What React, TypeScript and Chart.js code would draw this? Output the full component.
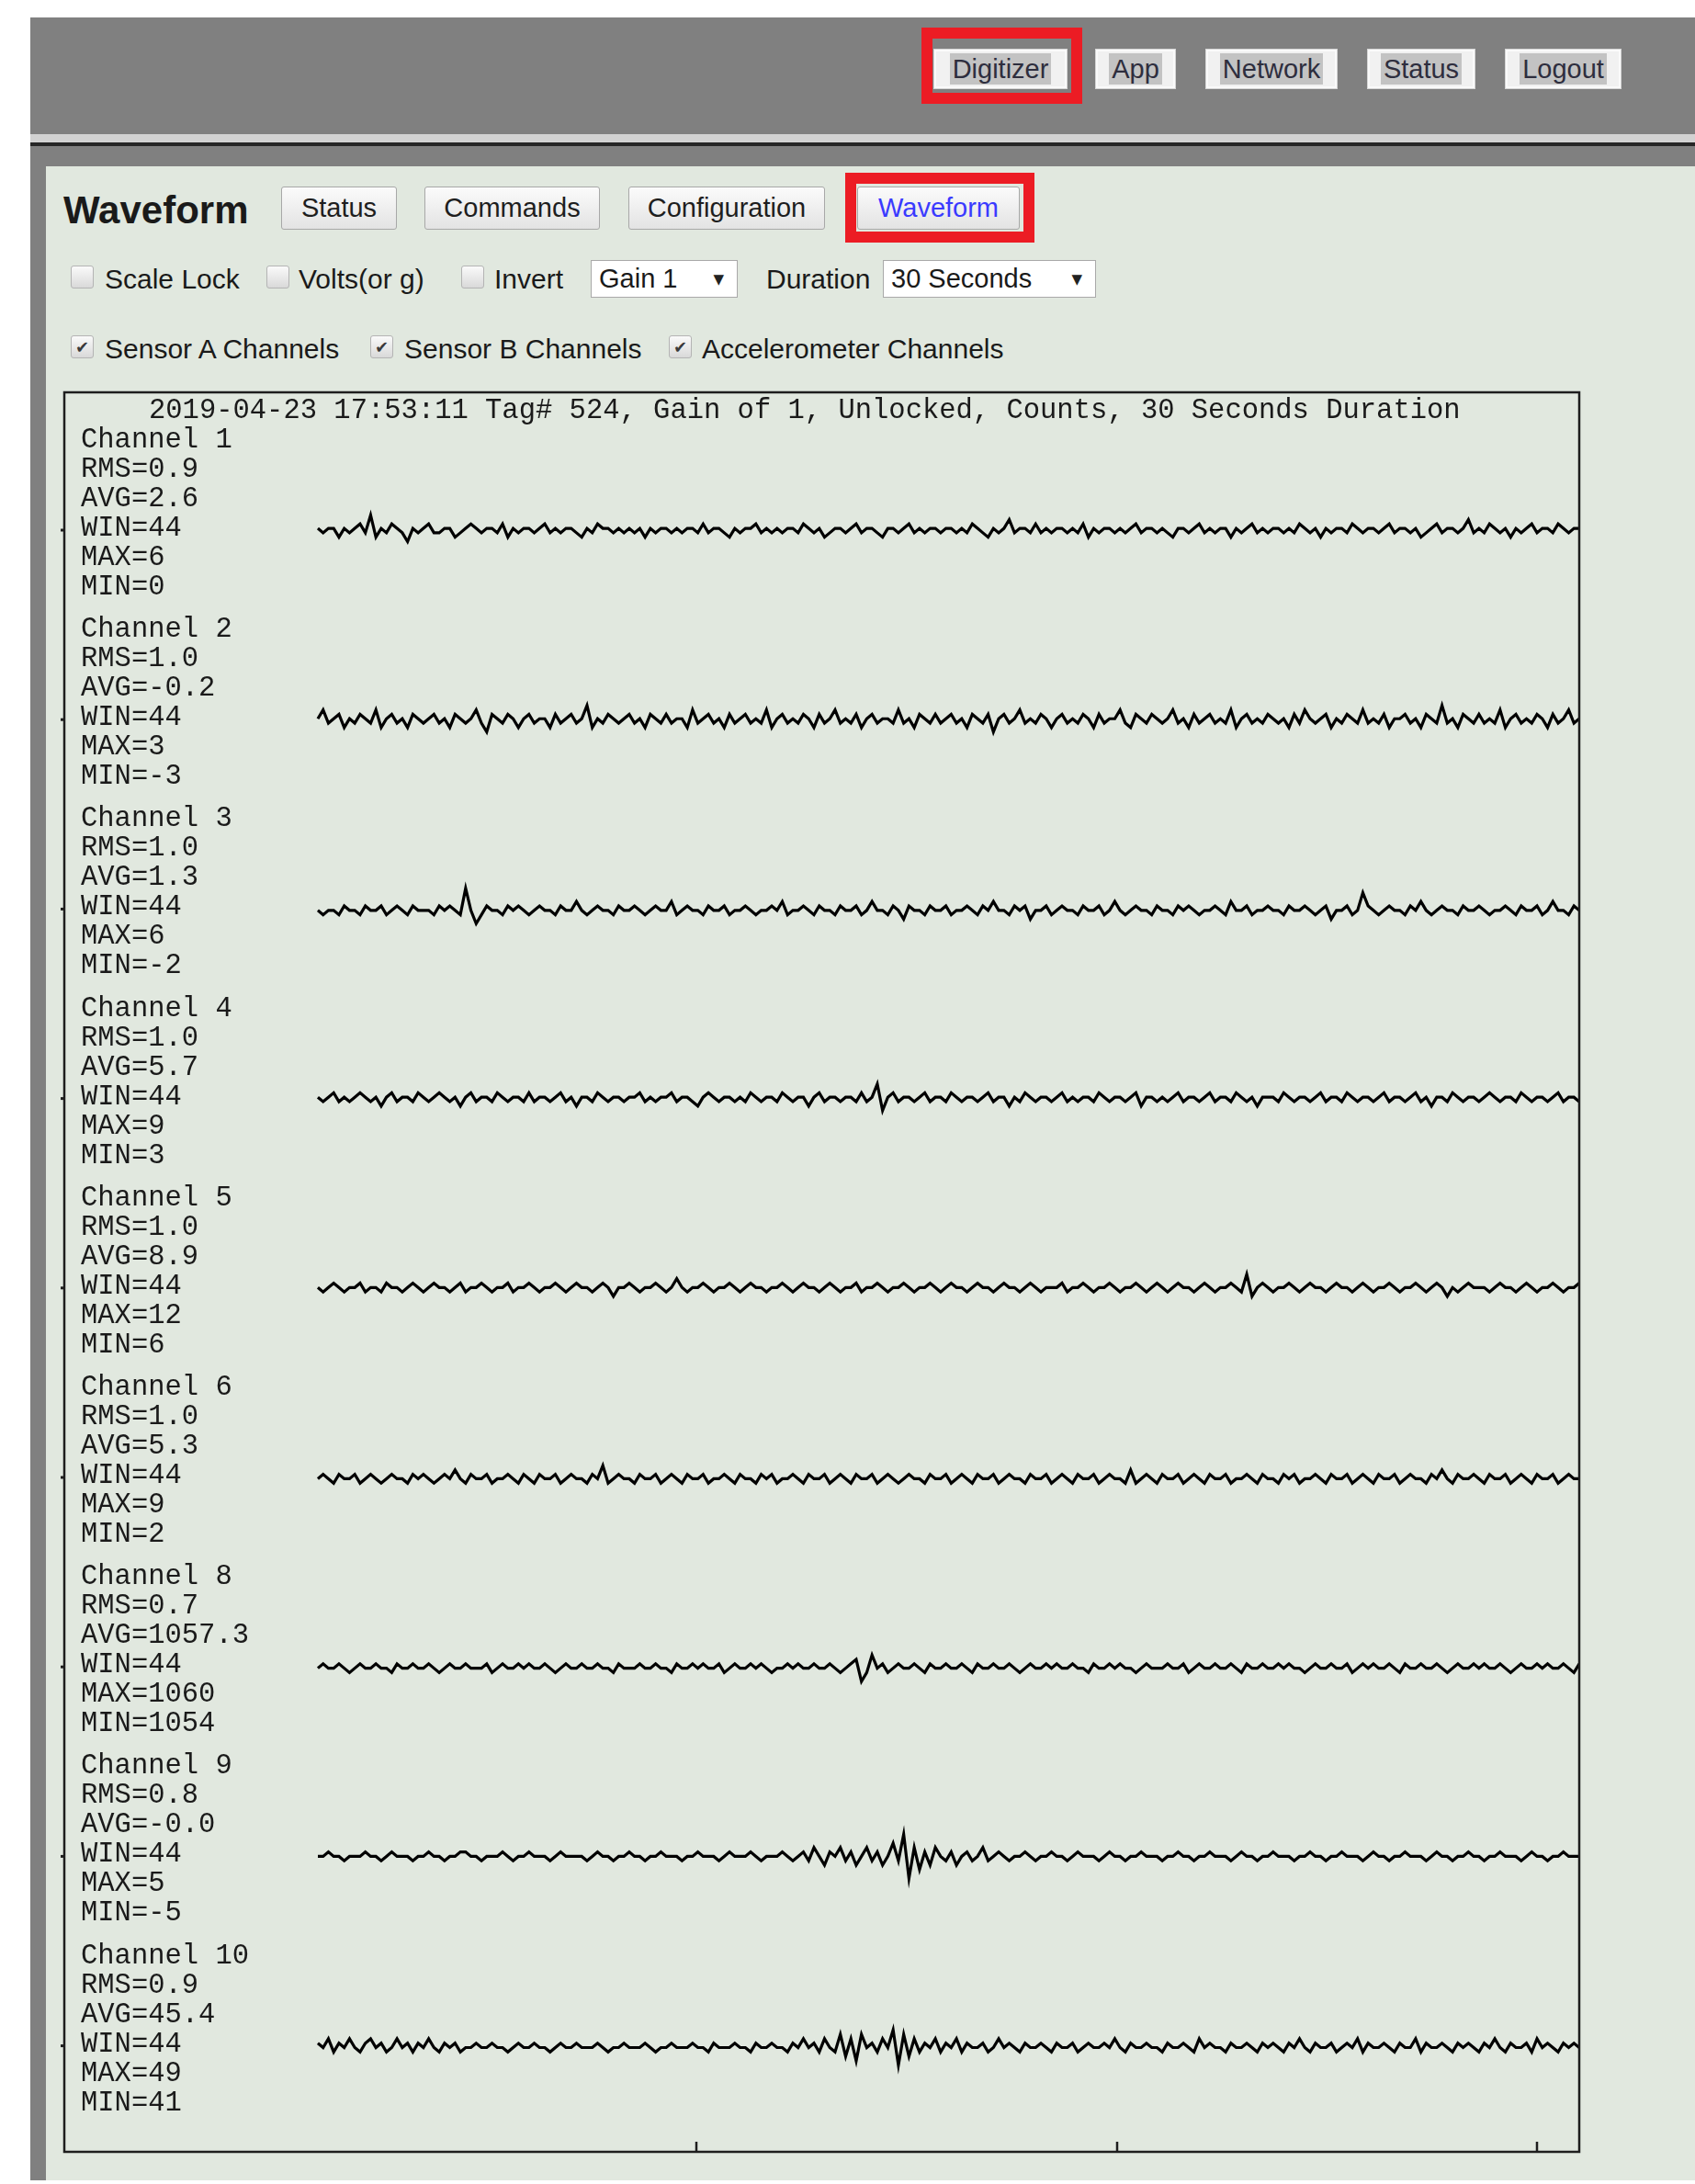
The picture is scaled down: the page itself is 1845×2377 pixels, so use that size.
import React, { useEffect, useRef } from "react";
import { Chart, registerables } from "chart.js";

Chart.register(...registerables);

// ---------------- chart data ----------------
const TITLE = "2019-04-23 17:53:11 Tag# 524, Gain of 1, Unlocked, Counts, 30 Seconds Duration";
const CHANNELS = ["Channel 1", "Channel 2", "Channel 3", "Channel 4", "Channel 5", "Channel 6", "Channel 8", "Channel 9", "Channel 10"];
const RMS = ["0.9", "1.0", "1.0", "1.0", "1.0", "1.0", "0.7", "0.8", "0.9"];
const AVG = ["2.6", "-0.2", "1.3", "5.7", "8.9", "5.3", "1057.3", "-0.0", "45.4"];
const WIN = [44, 44, 44, 44, 44, 44, 44, 44, 44];
const MAX = [6, 3, 6, 9, 12, 9, 1060, 5, 49];
const MIN = [0, -3, -2, 3, 6, 2, 1054, -5, 41];
const DURATION_S = 30;
const TIME_TICKS_S = [9, 19, 29];

const CH1 = [
  3,2,3,3,1,3,2,3,4,2,6,1,3,2,4,3,2,0,3,2,
  3,4,2,2,3,3,1,2,3,4,3,2,3,3,2,4,1,3,2,3,
  3,2,3,4,2,3,2,3,3,2,1,3,2,4,3,3,2,3,2,3,
  2,3,1,3,2,3,3,2,3,2,3,3,2,4,2,3,3,2,1,3,
  2,3,3,4,2,3,2,3,2,3,3,2,4,3,2,3,1,2,3,3,
  2,3,4,2,3,3,2,1,3,3,2,3,4,2,3,2,3,3,2,3,
  3,2,3,2,4,3,2,1,3,2,3,5,2,3,3,2,4,2,3,2,
  3,3,2,3,2,4,1,3,2,3,3,2,3,2,3,4,2,3,3,2,
  3,2,1,3,3,2,3,4,2,3,2,3,3,1,3,2,3,4,2,3,
  2,3,3,2,3,2,4,3,2,3,1,3,2,3,3,2,4,3,2,3,
  3,2,3,4,2,3,3,2,3,1,2,3,4,2,3,3,2,3,5,2,
  3,2,4,3,2,3,1,3,2,3,4,2,3,3,2,4,3,2,3,3,
];
const CH2 = [
  0,2,-1,0,1,-2,0,-1,1,0,-1,2,-2,0,1,-1,0,-2,1,0,
  -1,0,1,-1,0,-2,1,0,-1,0,2,-1,-3,1,0,-1,1,0,-2,0,
  1,-1,0,0,-2,1,-1,0,1,-1,0,3,-2,0,-1,1,0,-1,0,1,
  -1,0,-2,1,0,-1,1,-1,0,0,-2,2,-1,0,1,-1,0,-2,1,-1,
  0,1,-1,0,-1,2,-2,0,1,-1,0,-1,1,0,-2,1,-1,0,2,-1,
  0,-1,1,-2,0,1,-1,0,0,-1,2,-1,0,-2,1,0,-1,1,-1,0,
  1,-1,0,-2,1,0,-1,1,-3,0,1,-1,0,2,-1,0,-1,1,0,-2,
  0,1,-1,0,-1,1,0,-2,1,-1,0,0,2,-1,-2,1,0,-1,1,0,
  -1,0,2,-1,0,-2,1,-1,0,1,-1,0,-1,2,-2,0,1,-1,0,-1,
  1,0,-1,0,-2,1,-1,2,0,-1,0,1,-2,0,-1,1,0,-1,2,-1,
  0,-1,1,-2,0,0,1,-1,0,-2,1,0,-1,3,-1,0,-2,1,0,-1,
  1,-1,0,-1,2,-2,0,1,-1,0,-1,1,0,-2,1,-1,0,2,-1,0,
];
const CH3 = [
  1,0,1,1,0,2,1,1,0,2,1,1,2,0,1,2,1,0,2,1,
  1,1,0,2,1,2,1,0,6,1,-2,0,2,1,1,0,2,1,2,1,
  0,1,2,1,1,0,2,1,1,3,1,0,1,2,1,1,0,2,1,1,
  2,1,0,1,2,1,1,3,0,1,2,1,1,0,2,1,1,2,0,1,
  1,2,1,0,1,1,2,1,3,0,1,1,2,1,0,2,1,1,0,2,
  1,1,2,0,1,3,1,1,0,2,1,-1,2,1,1,0,2,1,1,2,
  0,1,1,2,1,0,2,1,3,1,1,0,2,1,2,-1,1,1,2,0,
  1,2,1,1,0,2,1,1,2,0,1,3,1,0,1,2,1,1,0,2,
  1,1,0,2,1,2,1,0,1,1,2,1,0,3,1,1,2,0,1,1,
  2,1,1,0,2,1,1,2,1,0,1,2,-1,1,1,2,0,1,5,2,
  1,0,1,2,1,1,0,2,1,3,1,0,1,2,1,1,0,2,1,1,
  2,1,0,1,1,2,1,0,2,1,1,2,0,1,3,1,1,0,2,1,
];
const CH4 = [
  6,5,6,7,5,6,5,6,7,6,5,6,4,6,7,5,6,6,5,7,
  6,5,6,7,6,5,6,4,6,7,5,6,6,5,7,6,5,6,6,5,
  7,5,6,6,5,6,7,5,6,4,6,6,5,7,6,5,6,6,5,6,
  6,7,5,6,5,6,6,7,5,6,6,5,4,6,7,6,5,6,6,5,
  6,5,7,6,5,6,6,5,7,6,5,6,6,4,6,7,5,6,6,5,
  6,6,5,7,5,6,9,3,6,7,5,6,6,5,6,7,5,6,6,5,
  7,6,5,6,6,5,6,7,5,6,6,4,6,5,7,6,5,6,6,5,
  6,7,5,6,5,6,6,5,7,6,5,6,6,5,6,7,4,6,6,5,
  6,5,6,7,5,6,6,5,6,7,5,6,6,5,7,6,5,6,4,6,
  6,6,5,7,6,5,6,6,5,6,7,5,6,6,5,7,6,5,6,6,
  5,6,7,5,6,6,5,6,7,5,6,4,6,6,5,7,6,5,6,6,
  5,6,7,6,5,6,6,5,7,6,5,6,6,5,6,7,5,6,6,5,
];
const CH5 = [
  9,8,9,10,9,8,9,9,10,8,9,9,8,10,9,9,8,9,10,9,
  8,9,10,9,9,8,9,10,8,9,9,10,9,8,9,9,10,8,9,9,
  10,9,8,9,9,10,9,8,9,10,9,9,8,9,10,9,7,9,9,10,
  9,8,9,9,10,9,8,9,11,9,8,9,9,10,9,8,9,9,10,9,
  8,9,10,9,9,8,9,9,10,9,8,9,10,9,9,8,9,10,9,8,
  9,9,10,8,9,9,10,9,8,9,9,10,9,8,9,9,10,9,8,9,
  10,9,9,8,9,10,9,9,8,9,10,9,9,8,9,10,9,8,9,9,
  9,10,8,9,9,10,9,8,9,9,10,9,8,9,9,10,9,8,9,10,
  9,8,9,10,9,9,8,9,10,9,8,9,9,10,9,8,12,7,9,10,
  9,8,9,9,10,9,8,9,10,9,9,8,9,10,9,9,8,9,10,9,
  8,9,9,10,9,8,9,9,10,9,8,9,10,9,7,9,8,9,10,9,
  9,9,8,9,10,9,9,8,9,10,9,8,9,9,10,9,8,9,9,10,
];
const CH6 = [
  5,6,5,4,6,5,5,6,4,5,6,5,4,5,6,5,5,4,6,5,
  6,5,4,5,6,5,7,5,4,6,5,5,6,4,5,5,6,5,4,6,
  5,4,6,5,5,6,4,5,6,5,5,4,6,5,8,4,5,6,5,5,
  4,6,5,5,6,4,5,6,5,4,6,5,5,6,4,5,5,6,5,4,
  6,5,5,4,6,5,6,4,5,5,6,5,4,6,5,5,6,4,5,6,
  5,4,6,5,5,6,4,5,6,5,4,5,6,5,5,4,6,5,5,6,
  4,5,6,5,4,6,5,5,6,4,5,6,5,5,4,6,5,5,6,4,
  5,6,5,4,6,5,5,6,4,5,6,5,5,4,7,4,5,6,5,4,
  6,5,5,6,4,5,6,5,4,6,5,5,6,4,5,5,6,5,4,6,
  5,5,4,6,5,6,4,5,5,6,5,4,6,5,5,6,4,5,6,5,
  4,6,5,5,6,4,5,6,5,5,4,6,5,7,5,4,6,5,5,6,
  5,4,6,5,5,6,4,5,6,5,4,6,5,5,6,4,5,6,5,5,
];
const CH8 = [
  1057,1058,1057,1057,1058,1057,1056,1057,1058,1057,1057,1058,1057,1057,1056,1058,1057,1057,1058,1057,
  1057,1058,1057,1056,1057,1058,1057,1057,1058,1057,1057,1057,1058,1056,1057,1058,1057,1057,1058,1057,
  1058,1057,1057,1058,1057,1056,1057,1058,1057,1057,1058,1057,1057,1058,1057,1057,1056,1058,1057,1057,
  1057,1058,1057,1057,1058,1057,1057,1056,1058,1057,1057,1058,1057,1058,1057,1057,1058,1056,1057,1058,
  1057,1057,1058,1057,1058,1057,1056,1057,1057,1058,1057,1058,1057,1057,1058,1057,1057,1058,1057,1056,
  1057,1058,1059,1054,1056,1060,1057,1058,1056,1057,1058,1057,1057,1058,1057,1056,1058,1057,1057,1058,
  1057,1057,1058,1057,1056,1058,1057,1057,1058,1057,1057,1058,1057,1056,1057,1058,1057,1057,1058,1057,
  1058,1057,1057,1058,1057,1057,1056,1058,1057,1057,1058,1057,1058,1057,1057,1056,1057,1058,1057,1057,
  1057,1058,1057,1057,1058,1056,1057,1058,1057,1057,1058,1057,1057,1058,1057,1056,1058,1057,1057,1058,
  1057,1057,1058,1057,1058,1057,1057,1056,1057,1058,1057,1057,1058,1057,1057,1058,1056,1057,1058,1057,
  1058,1057,1057,1058,1057,1056,1058,1057,1057,1058,1057,1057,1058,1057,1056,1057,1058,1057,1057,1058,
  1057,1058,1057,1057,1058,1057,1056,1057,1058,1057,1057,1058,1057,1058,1057,1057,1058,1057,1056,1058,
];
const CH9 = [
  0,0,1,0,0,-1,0,0,0,1,0,0,-1,0,1,0,0,0,-1,0,
  0,1,0,0,-1,0,0,1,1,0,0,-1,0,0,0,1,0,-1,0,0,
  1,0,0,0,-1,0,1,0,0,0,0,-1,0,1,0,0,-1,0,0,1,
  0,0,-1,0,0,1,0,0,0,-1,0,0,1,0,0,0,-1,0,1,0,
  0,0,1,0,-1,0,0,0,1,0,-1,0,1,-1,2,0,-2,1,0,2,
  -1,1,-2,0,2,-1,1,-2,0,3,-1,5,-5,2,-3,1,-2,2,0,-1,
  1,-2,0,1,-1,0,2,-1,0,1,0,-1,0,0,1,0,-1,0,0,1,
  0,0,-1,0,1,0,0,0,-1,0,1,0,0,-1,0,0,1,0,0,0,
  -1,0,0,1,0,0,-1,0,0,1,0,0,0,-1,0,1,0,0,-1,0,
  0,1,0,0,0,-1,0,0,1,0,0,-1,0,0,1,0,0,0,-1,0,
  1,0,0,-1,0,0,1,0,0,0,-1,0,1,0,0,-1,0,0,1,0,
  0,-1,0,0,1,0,0,0,-1,0,1,0,0,-1,0,0,1,0,0,0,
];
const CH10 = [
  46,45,47,44,46,45,47,45,44,46,47,45,46,44,45,47,45,46,44,46,
  45,47,45,44,46,45,46,44,45,45,46,45,45,46,45,45,44,45,46,45,
  45,46,45,45,44,45,46,45,45,46,45,45,45,46,45,44,45,45,46,45,
  45,45,46,45,44,45,45,46,45,45,45,46,45,45,44,46,45,45,45,46,
  45,45,44,46,45,45,46,45,45,44,46,45,47,45,46,44,47,45,44,48,
  43,47,42,48,45,46,44,47,45,49,41,48,43,47,44,46,45,47,44,46,
  45,47,44,46,45,45,46,44,45,47,45,46,45,44,46,45,45,46,45,44,
  46,45,45,46,44,45,46,45,45,46,45,47,45,44,46,45,45,46,45,45,
  44,46,45,45,46,45,44,47,45,46,45,45,44,46,45,45,46,45,44,46,
  45,46,45,44,46,45,47,45,44,46,45,45,46,44,45,46,45,47,44,46,
  45,45,46,45,44,46,45,45,47,44,46,45,45,46,45,44,46,45,46,45,
  44,46,45,47,45,44,46,45,45,46,44,47,45,46,45,44,46,45,46,45,
];
const SERIES = [CH1, CH2, CH3, CH4, CH5, CH6, CH8, CH9, CH10];

// ---------------- layout constants ----------------
const CANVAS_LEFT = 60;
const CANVAS_TOP = 417;
const CANVAS_W = 1672;
const CANVAS_H = 1935;
const PAD = { left: 10, top: 10, right: 13, bottom: 10 };
const PLOT_H = CANVAS_H - PAD.top - PAD.bottom;
const PX_PER_COUNT = 4.8;
const FIRST_BASE_PX = 150;
const BAND_PX = 206.2;
const Y_MAX = PLOT_H / PX_PER_COUNT;
const X_MIN = -6.03; // label gutter left of the traces, in seconds
const baseValue = (i: number) => Y_MAX - (FIRST_BASE_PX + i * BAND_PX) / PX_PER_COUNT;

const MONO = '30.5px "Liberation Mono", "DejaVu Sans Mono", monospace';

const overlayPlugin = {
  id: "overlay",
  afterDatasetsDraw(chart: any) {
    const { ctx, chartArea: a, scales } = chart;
    const x = scales.x;
    const y = scales.y;
    ctx.save();
    ctx.strokeStyle = "#1e1e1e";
    ctx.lineWidth = 2.5;
    ctx.strokeRect(a.left, a.top, a.right - a.left, a.bottom - a.top);
    // bottom ticks (inward)
    TIME_TICKS_S.forEach((t) => {
      const px = Math.round(x.getPixelForValue(t));
      ctx.beginPath();
      ctx.moveTo(px, a.bottom);
      ctx.lineTo(px, a.bottom - 11);
      ctx.stroke();
    });
    // left ticks at channel baselines
    ctx.lineWidth = 3;
    SERIES.forEach((_, i) => {
      const py = y.getPixelForValue(baseValue(i));
      ctx.beginPath();
      ctx.moveTo(a.left - 4, py);
      ctx.lineTo(a.left, py);
      ctx.stroke();
    });
    // text
    ctx.font = MONO;
    ctx.fillStyle = "#1a1a1a";
    ctx.textBaseline = "alphabetic";
    ctx.textAlign = "left";
    ctx.fillText(TITLE, a.left + 92, a.top + 28);
    SERIES.forEach((_, i) => {
      const by = y.getPixelForValue(baseValue(i));
      const lines = [
        CHANNELS[i],
        `RMS=${RMS[i]}`,
        `AVG=${AVG[i]}`,
        `WIN=${WIN[i]}`,
        `MAX=${MAX[i]}`,
        `MIN=${MIN[i]}`,
      ];
      lines.forEach((s, k) => {
        ctx.fillText(s, a.left + 18, by + 6 + (k - 3) * 32);
      });
    });
    ctx.restore();
  },
};

function WaveChart() {
  const ref = useRef<HTMLCanvasElement>(null);
  useEffect(() => {
    const datasets = SERIES.map((vals, i) => {
      const center = parseFloat(AVG[i]);
      return {
        label: CHANNELS[i],
        data: vals.map((v, j) => ({
          x: (j * DURATION_S) / (vals.length - 1),
          y: baseValue(i) + (v - center),
        })),
        borderColor: "#000000",
        borderWidth: 3.2,
        borderJoinStyle: "miter",
        pointRadius: 0,
        tension: 0,
        fill: false,
      };
    });
    const chart = new Chart(ref.current as HTMLCanvasElement, {
      type: "line",
      data: { datasets },
      options: {
        animation: false,
        responsive: false,
        devicePixelRatio: 1,
        layout: { padding: PAD },
        plugins: { legend: { display: false }, tooltip: { enabled: false } },
        scales: {
          x: { type: "linear", min: X_MIN, max: DURATION_S, display: false },
          y: { type: "linear", min: 0, max: Y_MAX, display: false },
        },
      },
      plugins: [overlayPlugin],
    } as any);
    return () => chart.destroy();
  }, []);
  return (
    <canvas
      ref={ref}
      width={CANVAS_W}
      height={CANVAS_H}
      style={{ position: "absolute", left: CANVAS_LEFT, top: CANVAS_TOP, width: CANVAS_W, height: CANVAS_H }}
    />
  );
}

// ---------------- page chrome ----------------
const UI = '"Liberation Sans", Arial, sans-serif';

function NavButton({ label, x, w }: { label: string; x: number; w: number }) {
  return (
    <div
      style={{
        position: "absolute", left: x, top: 53, width: w, height: 44, boxSizing: "border-box",
        background: "#f1f1f1", border: "1px solid #d6d6d6", boxShadow: "inset 0 0 0 2px #fafafa",
        display: "flex", alignItems: "center", justifyContent: "center",
      }}
    >
      <span style={{ background: "#c3c3c3", color: "#2e2e3e", font: `29px ${UI}`, lineHeight: "34px", padding: "0 3px" }}>{label}</span>
    </div>
  );
}

function SubButton({ label, x, w, color }: { label: string; x: number; w: number; color?: string }) {
  return (
    <div
      style={{
        position: "absolute", left: x, top: 203, width: w, height: 47, boxSizing: "border-box",
        background: "linear-gradient(#fbfbfb, #e3e3e3)", border: "1.5px solid #a8a8a8", borderRadius: 3,
        display: "flex", alignItems: "center", justifyContent: "center",
        color: color || "#1e1e1e", font: `29px ${UI}`,
      }}
    >
      {label}
    </div>
  );
}

function Check({ x, cy, checked }: { x: number; cy: number; checked?: boolean }) {
  return (
    <div
      style={{
        position: "absolute", left: x, top: cy - 14, width: 25, height: 25, boxSizing: "border-box",
        background: "linear-gradient(#fafafa, #d9d9d9)", border: "1px solid #b4b4b4", borderRadius: 3,
        display: "flex", alignItems: "center", justifyContent: "center",
        font: `18px "DejaVu Sans", sans-serif`, color: "#3a3a3a",
      }}
    >
      {checked ? "\u2714" : ""}
    </div>
  );
}

function Label({ text, x, cy, size = 30, bold = false }: { text: string; x: number; cy: number; size?: number; bold?: boolean }) {
  return (
    <div
      style={{
        position: "absolute", left: x, top: cy - 25, height: 50, display: "flex", alignItems: "center",
        font: `${bold ? "bold " : ""}${size}px ${UI}`, color: "#1a1a1a", whiteSpace: "nowrap",
      }}
    >
      {text}
    </div>
  );
}

function Select({ text, x, w }: { text: string; x: number; w: number }) {
  return (
    <div
      style={{
        position: "absolute", left: x, top: 283, width: w, height: 41, boxSizing: "border-box",
        background: "#ffffff", border: "1.5px solid #a9a9a9",
        display: "flex", alignItems: "center", font: `29px ${UI}`, color: "#1a1a1a",
      }}
    >
      <span style={{ marginLeft: 8 }}>{text}</span>
      <span style={{ position: "absolute", right: 14, font: `15px "DejaVu Sans", sans-serif`, color: "#222" }}>{"\u25BC"}</span>
    </div>
  );
}

function RedBox({ x, y, w, h }: { x: number; y: number; w: number; h: number }) {
  return (
    <div
      style={{
        position: "absolute", left: x, top: y, width: w, height: h, boxSizing: "border-box",
        border: "12px solid #ec1c24",
      }}
    />
  );
}

export default function App() {
  return (
    <div style={{ position: "absolute", left: 0, top: 0, width: 1845, height: 2377, background: "#ffffff", overflow: "hidden" }}>
      {/* gray frame */}
      <div style={{ position: "absolute", left: 33, top: 19, width: 1812, height: 2354, background: "#808080" }} />
      <div style={{ position: "absolute", left: 33, top: 146, width: 1812, height: 9, background: "#d2d2d2" }} />
      <div style={{ position: "absolute", left: 33, top: 155, width: 1812, height: 4, background: "#262626" }} />
      {/* content panel */}
      <div style={{ position: "absolute", left: 50, top: 181, width: 1795, height: 2192, background: "#e1e8df" }} />

      {/* top nav */}
      <NavButton label="Digitizer" x={1016} w={146} />
      <NavButton label="App" x={1192} w={88} />
      <NavButton label="Network" x={1312} w={144} />
      <NavButton label="Status" x={1488} w={118} />
      <NavButton label="Logout" x={1638} w={127} />
      <RedBox x={1003} y={30} w={175} h={83} />

      {/* heading + tabs */}
      <Label text="Waveform" x={69} cy={229} size={42} bold />
      <SubButton label="Status" x={306} w={126} />
      <SubButton label="Commands" x={462} w={191} />
      <SubButton label="Configuration" x={684} w={214} />
      <SubButton label="Waveform" x={933} w={177} color="#3a3aff" />
      <RedBox x={920} y={188} w={206} h={76} />

      {/* options row 1 */}
      <Check x={77} cy={303} />
      <Label text="Scale Lock" x={114} cy={304} />
      <Check x={290} cy={303} />
      <Label text="Volts(or g)" x={325} cy={304} />
      <Check x={502} cy={303} />
      <Label text="Invert" x={538} cy={304} />
      <Select text="Gain 1" x={643} w={160} />
      <Label text="Duration" x={834} cy={304} />
      <Select text="30 Seconds" x={961} w={232} />

      {/* options row 2 */}
      <Check x={77} cy={379} checked />
      <Label text="Sensor A Channels" x={114} cy={380} />
      <Check x={403} cy={379} checked />
      <Label text="Sensor B Channels" x={440} cy={380} />
      <Check x={728} cy={379} checked />
      <Label text="Accelerometer Channels" x={764} cy={380} />

      <WaveChart />
    </div>
  );
}
